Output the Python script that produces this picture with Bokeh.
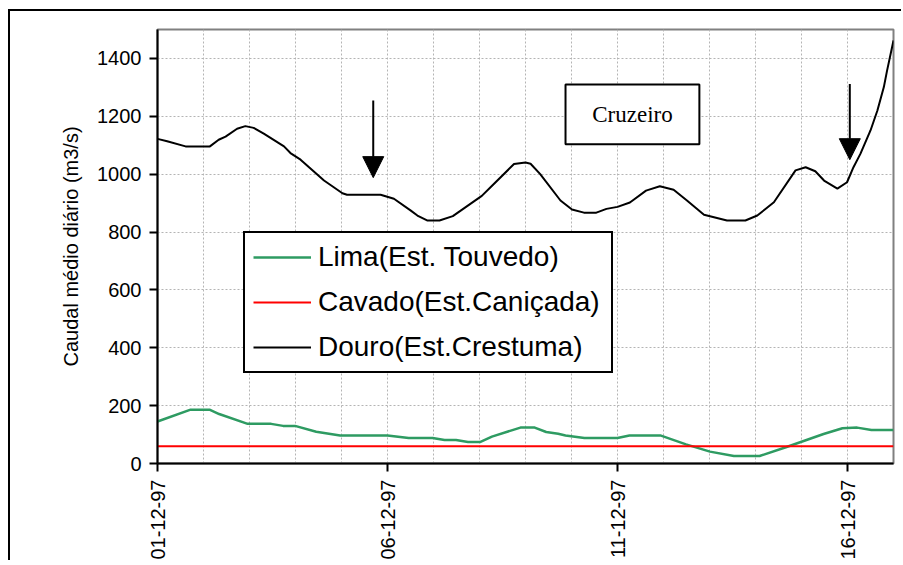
from bokeh.plotting import figure
from bokeh.models import (Range1d, FixedTicker, Legend, LegendItem, BoxAnnotation,
                          Label, Arrow, NormalHead)
from bokeh.embed import file_html
from bokeh.resources import INLINE

# ---- data (day of December 1997, flow m3/s) ----
douro_day = [1.0, 1.21, 1.61, 2.14, 2.33, 2.48, 2.73, 2.91, 3.09, 3.31, 3.75, 3.89, 4.11,
             4.62, 5.02, 5.12, 5.85, 6.14, 6.5, 6.65, 6.86, 7.13, 7.42, 8.05, 8.24, 8.75,
             9.0, 9.11, 9.32, 9.76, 10.01, 10.27, 10.54, 10.76, 11.0, 11.27, 11.62, 11.92,
             12.22, 12.51, 12.88, 13.38, 13.78, 14.04, 14.40, 14.87, 15.09, 15.30, 15.49,
             15.78, 15.99, 16.13, 16.28, 16.5, 16.65, 16.79, 16.86, 17.0]
douro_flow = [1122, 1114, 1096, 1096, 1119, 1130, 1157, 1166, 1160, 1140, 1096, 1073, 1050,
              978, 934, 929, 929, 915, 875, 857, 840, 840, 855, 925, 955, 1035,
              1040, 1036, 1000, 909, 878, 867, 867, 880, 887, 902, 943, 958,
              946, 909, 860, 840, 840, 857, 903, 1013, 1024, 1010, 978,
              950, 972, 1024, 1070, 1151, 1220, 1301, 1358, 1462]

lima_day = [1.0, 1.72, 2.13, 2.34, 2.96, 3.47, 3.73, 3.99, 4.45, 4.97, 6.0, 6.46, 6.98,
            7.24, 7.49, 7.75, 8.01, 8.27, 8.89, 9.2, 9.45, 9.71, 9.87, 10.28, 11.0, 11.26,
            11.93, 12.49, 13.01, 13.53, 14.09, 14.66, 15.48, 15.89, 16.21, 16.52, 17.0]
lima_flow = [145, 186, 186, 171, 137, 137, 130, 130, 110, 97, 97, 88, 88,
             81, 81, 74, 74, 93, 124, 124, 109, 103, 97, 88, 88, 97,
             97, 66, 41, 26, 26, 56, 102, 122, 124, 116, 116]

cavado_day = [1.0, 17.0]
cavado_flow = [60, 60]

series_names = ["Lima(Est. Touvedo)", "Cavado(Est.Caniçada)", "Douro(Est.Crestuma)"]

x_tick_days = [1, 6, 11, 16]
x_tick_labels = ["01-12-97", "06-12-97", "11-12-97", "16-12-97"]
y_ticks = [0, 200, 400, 600, 800, 1000, 1200, 1400]
grid_days = list(range(1, 18))

# annotations (data coordinates)
arrow_x = [5.69, 16.05]
arrow_top = [1255, 1312]
arrow_tip = [988, 1050]
note_text = "Cruzeiro"
note_box = dict(left=9.87, right=12.78, bottom=1103, top=1310)

FONT = "Liberation Sans"

p = figure(width=893, height=551, output_backend="svg", toolbar_location=None,
           x_range=Range1d(1, 17), y_range=Range1d(0, 1500),
           min_border_left=147, min_border_right=10, min_border_top=18, min_border_bottom=10)
p.styles = {"margin-left": "8px", "margin-top": "9px",
            "border-left": "2px solid black", "border-top": "2px solid black"}

p.outline_line_color = "#808080"
p.outline_line_width = 2

# grids
p.xgrid.ticker = FixedTicker(ticks=grid_days)
p.ygrid.ticker = FixedTicker(ticks=y_ticks)
for g in (p.xgrid, p.ygrid):
    g.grid_line_color = "#b4b4b4"
    g.grid_line_dash = "2 2"
    g.grid_line_width = 1

# axes
xa = p.xaxis[0]
xa.ticker = FixedTicker(ticks=x_tick_days)
xa.major_label_overrides = {d: s for d, s in zip(x_tick_days, x_tick_labels)}
xa.major_label_orientation = 3.14159265 / 2
xa.major_label_standoff = 8

ya = p.yaxis[0]
ya.ticker = FixedTicker(ticks=y_ticks)
ya.axis_label = "Caudal médio diário (m3/s)"
ya.axis_label_text_font = FONT
ya.axis_label_text_font_size = "20px"
ya.axis_label_text_font_style = "normal"
ya.axis_label_text_color = "black"
ya.axis_label_standoff = 12
ya.major_label_standoff = 8

for ax in (xa, ya):
    ax.axis_line_color = "black"
    ax.axis_line_width = 2
    ax.major_tick_line_color = "black"
    ax.major_tick_line_width = 2
    ax.major_tick_out = 8
    ax.major_tick_in = 0
    ax.minor_tick_line_color = None
    ax.major_label_text_font = FONT
    ax.major_label_text_font_size = "20px"
    ax.major_label_text_color = "black"

# series
r_douro = p.line(douro_day, douro_flow, line_color="black", line_width=2)
r_lima = p.line(lima_day, lima_flow, line_color="#2e9b62", line_width=2.5)
r_cav = p.line(cavado_day, cavado_flow, line_color="#ff0000", line_width=2)

legend = Legend(items=[LegendItem(label=series_names[0], renderers=[r_lima]),
                       LegendItem(label=series_names[1], renderers=[r_cav]),
                       LegendItem(label=series_names[2], renderers=[r_douro])],
                location=(86, 90), padding=8, spacing=13, margin=0,
                glyph_width=58, glyph_height=30, label_height=30, label_width=285,
                label_standoff=7,
                label_text_font=FONT, label_text_font_size="28px",
                label_text_color="black",
                border_line_color="black", border_line_width=2, border_line_alpha=1,
                background_fill_color="white", background_fill_alpha=1)
p.add_layout(legend, "center")

# Cruzeiro note
p.add_layout(BoxAnnotation(fill_color="white", fill_alpha=1, line_color="black",
                           line_alpha=1, line_width=2, **note_box))
p.add_layout(Label(x=(note_box["left"] + note_box["right"]) / 2,
                   y=(note_box["top"] + note_box["bottom"]) / 2,
                   text=note_text, text_align="center", text_baseline="middle",
                   text_font="Liberation Serif", text_font_size="23px",
                   text_color="black"))

for xs, yt, ye in zip(arrow_x, arrow_top, arrow_tip):
    p.add_layout(Arrow(x_start=xs, y_start=yt, x_end=xs, y_end=ye,
                       line_color="black", line_width=2,
                       end=NormalHead(size=21, fill_color="black", line_color="black",
                                      line_width=1)))

open("out.html", "w").write(file_html(p, INLINE))
